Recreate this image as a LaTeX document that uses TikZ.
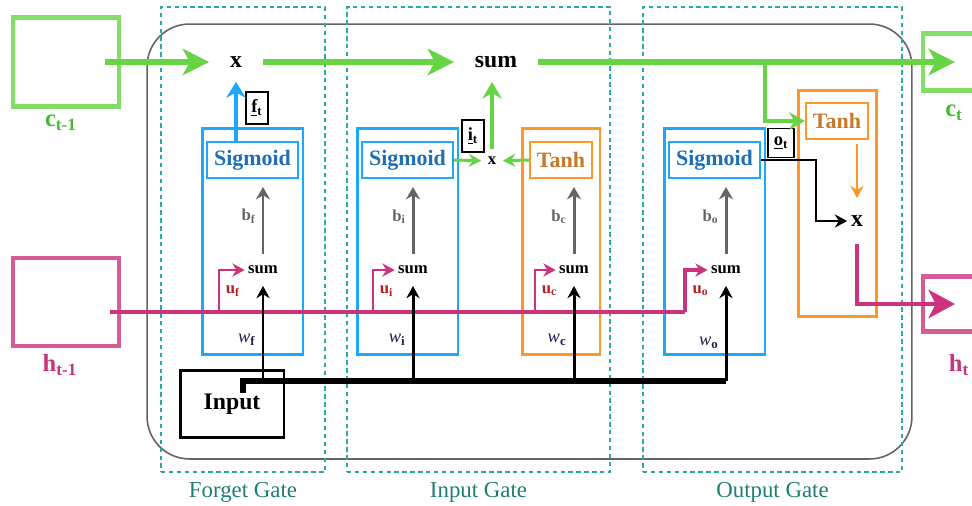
\documentclass[tikz,border=0pt]{standalone}
\usepackage{fontspec}
\setmainfont{Liberation Serif}
\usetikzlibrary{arrows.meta}
\usetikzlibrary{positioning}
\usetikzlibrary{calc}
\definecolor{cgreen}{RGB}{102,212,68}
\definecolor{cgreenD}{RGB}{70,185,50}
\definecolor{cblue}{RGB}{30,168,250}
\definecolor{cblueD}{RGB}{30,110,180}
\definecolor{corange}{RGB}{255,150,40}
\definecolor{corangeD}{RGB}{200,120,40}
\definecolor{cmag}{RGB}{205,50,125}
\definecolor{cteal}{RGB}{40,170,160}
\definecolor{ctealD}{RGB}{30,125,115}
\definecolor{cgray}{RGB}{100,100,100}
\definecolor{cred}{RGB}{180,30,30}
\definecolor{cnavy}{RGB}{30,30,80}
\tikzset{every picture/.style={line width=1pt},
  gate/.style={draw=cteal,line width=0.7pt,dash pattern=on 2.5pt off 2pt},
  gatelabel/.style={text=ctealD,inner sep=2pt,font=\fontsize{13}{15}\selectfont},
  memory/.style={line width=2.3pt,draw opacity=0.8},
  memlabel/.style={font=\fontsize{14}{17}\selectfont\bfseries},
  gatebox/.style={draw,line width=1.7pt,minimum width=2.02cm,minimum height=4.54cm},
  act/.style={draw,line width=1.2pt,minimum height=0.72cm,inner sep=1pt,font=\fontsize{12.5}{15}\selectfont\bfseries},
  op/.style={inner sep=0pt,font=\fontsize{13.5}{16}\selectfont\bfseries},
  smallsum/.style={inner sep=1.5pt,minimum height=0.6cm,font=\fontsize{9.5}{11}\selectfont\bfseries},
  tag/.style={draw,fill=white,line width=0.6pt,inner sep=1pt,minimum width=0.44cm,minimum height=0.64cm,font=\fontsize{10.5}{12}\selectfont\bfseries},
  inbox/.style={draw,line width=1.7pt,minimum width=2.08cm,minimum height=1.34cm,font=\fontsize{13.5}{16}\selectfont\bfseries},
  blab/.style={left,text=cgray,font=\fontsize{9.5}{11}\selectfont\bfseries},
  ulab/.style={right,text=cred,font=\fontsize{9.5}{11}\selectfont\bfseries},
  wlab/.style={left,text=cnavy,font=\fontsize{10.5}{12}\selectfont},
  cellarrow/.style={cgreen,line width=3.2pt,-{Stealth[length=15pt,width=15pt,inset=4pt]}},
  cellbranch/.style={cgreen,line width=2.3pt,-{Stealth[length=9pt,width=10pt]}},
  fline/.style={cblue,line width=2.3pt,-{Stealth[length=9pt,width=11pt]}},
  gline/.style={cgreen,line width=1.7pt,-{Stealth[length=7pt,width=7.5pt]}},
  gup/.style={cgreen,line width=2.3pt,-{Stealth[length=9.5pt,width=11pt]}},
  bline/.style={cgray,line width=1.7pt,shorten >=0.16cm,-{Stealth[length=7pt,width=8pt]}},
  hidline/.style={cmag,line width=2.8pt},
  hidout/.style={cmag,line width=2.8pt,-{Stealth[length=15pt,width=16pt,inset=4pt]}},
  ubranch/.style={cmag,line width=1.2pt,-{Stealth[length=7pt,width=7.5pt]}},
  busline/.style={black,line width=3pt},
  wline/.style={black,line width=1.7pt,-{Stealth[length=7pt,width=7.5pt]}},
  oline/.style={black,line width=1.5pt,-{Stealth[length=7pt,width=7.5pt]}},
  tline/.style={corange,line width=1.2pt,shorten <=0.08cm,-{Stealth[length=7pt,width=7.5pt]}}}
\begin{document}
\begin{tikzpicture}[x=0.02cm,y=-0.02cm]
\useasboundingbox (0,0) rectangle (972,505);

\node (cell) at (529.5,241.5) [draw=cgray,line width=0.9pt,rounded corners=0.85cm,minimum width=15.3cm,minimum height=8.7cm] {};
\node (fgate) at (243,239.5) [gate,minimum width=3.28cm,minimum height=9.3cm] {};
\node (igate) at (478.5,239.5) [gate,minimum width=5.26cm,minimum height=9.3cm] {};
\node (ogate) at (772.5,239.5) [gate,minimum width=5.18cm,minimum height=9.3cm] {};
\node (fgl) [gatelabel,below=0.1cm of fgate] {Forget Gate};
\node (igl) [gatelabel,below=0.1cm of igate] {Input Gate};
\node (ogl) [gatelabel,below=0.1cm of ogate] {Output Gate};

\node (cin) at (66,62) [memory,draw=cgreen,minimum width=2.12cm,minimum height=1.78cm] {};
\node (cout) at (955,62) [memory,draw=cgreen,minimum width=1.28cm,minimum height=1.14cm] {};
\node (hin) at (66,302) [memory,draw=cmag,minimum width=2.12cm,minimum height=1.76cm] {};
\node (hout) at (955,304) [memory,draw=cmag,minimum width=1.28cm,minimum height=1.1cm] {};
\node (cinl) at (61,123) [memlabel,text=cgreenD] {c\textsubscript{t-1}};
\node (coutl) at (954,113) [memlabel,text=cgreenD] {c\textsubscript{t}};
\node (hinl) at (60,365) [memlabel,text=cmag] {h\textsubscript{t-1}};
\node (houtl) at (959,365) [memlabel,text=cmag] {h\textsubscript{t}};

\node (fx) at (236,62) [op,minimum width=1.04cm,minimum height=0.76cm] {x};
\node (tsum) at (496,62) [op,minimum width=1.64cm,minimum height=0.76cm] {sum};

\node (fbox) at (252.5,241.5) [gatebox,draw=cblue] {};
\node (fs) at (252.5,160) [act,draw=cblue,text=cblueD,minimum width=1.82cm] {Sigmoid};
\node (fsum) at (263,270) [smallsum] {sum};
\node (ft) at (257,108) [tag] {\underline{f}\textsubscript{t}};

\node (ibox) at (407.5,241.5) [gatebox,draw=cblue] {};
\node (is) at (407.5,160) [act,draw=cblue,text=cblueD,minimum width=1.82cm] {Sigmoid};
\node (isum) at (413,270) [smallsum] {sum};
\node (cbox) at (561,241.5) [gatebox,draw=corange,minimum width=1.56cm] {};
\node (cs) at (561,160) [act,draw=corange,text=corangeD,minimum width=1.24cm] {Tanh};
\node (csum) at (574,270) [smallsum] {sum};
\node (ix) at (492,161) [op,font=\fontsize{9.5}{11}\selectfont\bfseries,minimum width=0.4cm,minimum height=0.44cm] {x};
\node (it) at (473,136) [tag] {\underline{i}\textsubscript{t}};

\node (obox) at (714.5,241.5) [gatebox,draw=cblue] {};
\node (os) at (714.5,160) [act,draw=cblue,text=cblueD,minimum width=1.82cm] {Sigmoid};
\node (osum) at (726,270) [smallsum] {sum};
\node (hbox) at (837,203.5) [gatebox,draw=corange,minimum width=1.56cm] {};
\node (hs) at (837,121) [act,draw=corange,text=corangeD,minimum width=1.24cm] {Tanh};
\node (ox) at (857,221) [op,minimum width=0.36cm,minimum height=0.88cm] {x};
\node (ot) at (781,143) [tag,minimum width=0.52cm,minimum height=0.58cm] {\underline{o}\textsubscript{t}};

\node (inp) at (232,404) [inbox] {Input};

\coordinate (csplit) at (765,62);
\coordinate (fu) at (219,312);
\coordinate (iu) at (373,312);
\coordinate (cu) at (535,312);
\coordinate (hturn) at (685,312);
\coordinate (bus) at (726,381);

\draw [cellarrow] ([xshift=-0.32cm]cin.east) -- (fx);
\draw [cellarrow] (fx) -- (tsum);
\draw [cellarrow] (tsum) -- (cout.center);
\draw [cellbranch] (csplit) |- (hs.west);
\draw [fline] (fs.north -| fx) -- (fx);
\draw [gline] (is.east) -- (ix);
\draw [gline] (cs.west) -- (ix);
\draw [gup] (ix) -- (ix |- tsum.south);

\draw [bline] (fsum) -- node[blab]{b\textsubscript{f}} (fsum |- fs.south);
\draw [bline] (isum) -- node[blab]{b\textsubscript{i}} (isum |- is.south);
\draw [bline] (csum) -- node[blab]{b\textsubscript{c}} (csum |- cs.south);
\draw [bline] (osum) -- node[blab]{b\textsubscript{o}} (osum |- os.south);

\draw [hidline] ($(hin.east |- hturn)+(-11,0)$) -- (hturn);
\draw [ubranch] (fu) |- node[ulab,pos=0.25]{u\textsubscript{f}} (fsum.west);
\draw [ubranch] (iu) |- node[ulab,pos=0.25]{u\textsubscript{i}} (isum.west);
\draw [ubranch] (cu) |- node[ulab,pos=0.25]{u\textsubscript{c}} (csum.west);
\draw [ubranch,line width=2pt] (hturn) |- node[ulab,pos=0.25]{u\textsubscript{o}} (osum.west);

\draw [busline] ([shift={(0.22cm,0.22cm)}]inp.center) |- (bus);
\draw [wline] (fsum |- bus) -- node[wlab,pos=0.43]{\textit{w}\textsubscript{\textbf{f}}} (fsum);
\draw [wline] (isum |- bus) -- node[wlab,pos=0.43]{\textit{w}\textsubscript{\textbf{i}}} (isum);
\draw [wline] (csum |- bus) -- node[wlab,pos=0.43]{\textit{w}\textsubscript{\textbf{c}}} (csum);
\draw [wline] (bus) -- node[wlab,pos=0.40]{\textit{w}\textsubscript{\textbf{o}}} (osum);

\draw [oline] (os.east) -- ++(55,0) |- (ox);
\draw [tline] (hs.south -| ox) -- (ox);
\draw [hidout] (ox) |- (hout.center);
\end{tikzpicture}
\end{document}
